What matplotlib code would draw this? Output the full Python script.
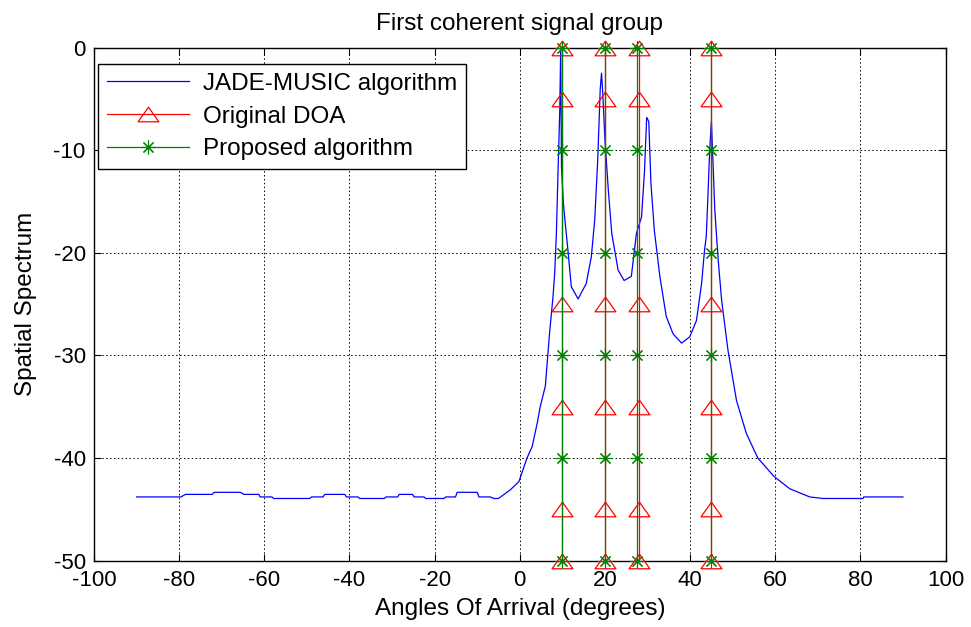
import matplotlib
matplotlib.use("Agg")
import matplotlib.pyplot as plt
from matplotlib.path import Path

plt.rcParams['font.family'] = ['Liberation Sans', 'DejaVu Sans']
plt.rcParams['axes.unicode_minus'] = False

# JADE-MUSIC spectrum (angle in degrees, spectrum in dB)
music_x = [-90, -79.6, -78.5, -72.2, -71.8, -65.6, -64.8, -61.3, -61.0, -58.2, -57.8,
           -49.3, -48.9, -46.2, -45.8, -41.1, -40.7, -38.0, -37.6, -31.8, -31.4, -28.7,
           -28.3, -25.2, -24.8, -22.5, -22.1, -17.8, -17.4, -15.1, -14.7, -10.0, -9.6,
           -6.9, -6.1, -5.0, -2.2, -0.2, 1.7, 2.9, 4.1, 4.8, 6.0, 7.0, 7.8, 8.2, 8.6,
           9.0, 9.4, 9.6, 9.8, 10.2, 10.6, 11.3, 12.1, 13.7, 15.6, 16.8, 17.6, 18.3,
           18.9, 19.2, 19.5, 20.0, 20.8, 21.6, 23.1, 24.5, 26.2, 27.4, 28.6, 29.3, 29.8,
           30.3, 30.8, 31.6, 32.9, 34.4, 36.0, 38.0, 39.9, 41.5, 42.7, 43.4, 43.8, 44.2,
           44.6, 45.0, 45.3, 45.8, 46.6, 47.4, 48.9, 50.9, 53.2, 55.9, 59.7, 63.4, 68.1,
           71.2, 80.6, 80.8, 90]
music_y = [-43.8, -43.8, -43.55, -43.55, -43.35, -43.35, -43.55, -43.55, -43.8, -43.8, -43.95,
           -43.95, -43.8, -43.8, -43.55, -43.55, -43.8, -43.8, -43.95, -43.95, -43.8, -43.8,
           -43.55, -43.55, -43.8, -43.8, -43.95, -43.95, -43.8, -43.8, -43.35, -43.35, -43.8,
           -43.8, -43.95, -43.95, -43.1, -42.3, -40.0, -38.9, -36.6, -35.0, -33.0, -27.8, -24.3, -22.0, -18.1,
           -11.9, -6.0, -0.3, -11.6, -14.9, -16.8, -19.7, -23.3, -24.5, -23.0, -20.4, -16.8, -11.0,
           -4.0, -2.5, -4.5, -9.0, -13.9, -18.1, -21.7, -22.7, -22.3, -18.1, -16.5, -12.0, -6.8,
           -7.2, -13.2, -17.8, -22.3, -26.2, -27.9, -28.8, -28.2, -26.6, -23.0, -19.7, -18.4, -14.4,
           -10.0, -7.2, -10.3, -15.8, -20.7, -24.6, -29.5, -34.4, -37.6, -40.0, -41.8, -43.0, -43.8,
           -43.95, -43.95, -43.8, -43.8]

# Original DOAs and estimated DOAs (degrees)
original_doa = [10, 20, 28, 45]
proposed_doa = [10, 20, 27.6, 45]
original_levels = [0, -5, -25, -35, -45, -50]
proposed_levels = [0, -10, -20, -30, -40, -50]

xticks = list(range(-100, 101, 20))
yticks = list(range(-50, 1, 10))

fig = plt.figure(figsize=(9.71, 6.27), dpi=100)
ax = fig.add_axes([0.0968, 0.106, 0.877, 0.818])

tri = Path([(0, 0.7), (-1, -0.7), (1, -0.7), (0, 0.7)],
           [Path.MOVETO, Path.LINETO, Path.LINETO, Path.CLOSEPOLY])

h1, = ax.plot(music_x, music_y, color=(0, 0, 1), lw=0.9, label='JADE-MUSIC algorithm')
h2 = None
for i, d in enumerate(original_doa):
    l, = ax.plot([d] * len(original_levels), original_levels, color=(1, 0, 0), lw=0.9,
                 marker=tri, markersize=15, markerfacecolor='none', markeredgecolor=(1, 0, 0),
                 markeredgewidth=0.9, clip_on=False, zorder=3,
                 label='Original DOA' if i == 0 else None)
    if i == 0:
        h2 = l
h3 = None
for i, d in enumerate(proposed_doa):
    l, = ax.plot([d] * len(proposed_levels), proposed_levels, color=(0, 0.5, 0), lw=0.9,
                 marker=(8, 2, 0), markersize=10, markeredgewidth=0.8,
                 markeredgecolor=(0, 0.5, 0), clip_on=False, zorder=4,
                 label='Proposed algorithm' if i == 0 else None)
    if i == 0:
        h3 = l

ax.set_xlim(-100, 100)
ax.set_ylim(-50, 0)
ax.set_xticks(xticks)
ax.set_yticks(yticks)
ax.tick_params(direction='in', top=True, right=True, length=5, labelsize=16, width=0.8)
ax.tick_params(axis='x', pad=7)
ax.tick_params(axis='y', pad=6)
ax.grid(True, color='black', linestyle=(0, (1.5, 2.5)), linewidth=0.7)
for s in ax.spines.values():
    s.set_linewidth(1.0)

ax.set_title('First coherent signal group', fontsize=17.5, pad=13)
ax.set_xlabel('Angles Of Arrival (degrees)', fontsize=17.5, labelpad=5)
ax.set_ylabel('Spatial Spectrum', fontsize=17.5, labelpad=12)

leg = ax.legend(handles=[h1, h2, h3], loc='upper left', bbox_to_anchor=(0.005, 0.968),
                fontsize=17.5, frameon=True, fancybox=False, framealpha=1,
                edgecolor='black', handlelength=3.4, borderaxespad=0, borderpad=0.35,
                labelspacing=0.45, handletextpad=0.55)
leg.get_frame().set_linewidth(1.0)

fig.savefig('out.png', dpi=100)
